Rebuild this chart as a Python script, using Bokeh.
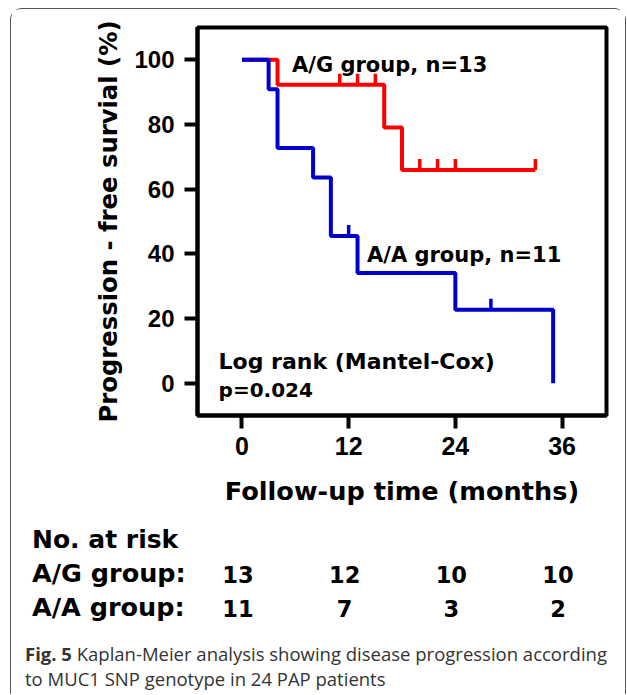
import numpy as np
from bokeh.plotting import figure
from bokeh.models import Range1d, FixedTicker, Div, Label
from bokeh.layouts import column
from bokeh.embed import file_html
from bokeh.resources import INLINE

# ---------------- data ----------------
ag_t = [0, 4, 16, 18, 33]
ag_s = [100, 92.3, 79.1, 65.9, 65.9]
ag_cens = [11, 13, 15, 20, 22, 24, 33]
aa_t = [0, 3, 4, 8, 10, 13, 24, 35]
aa_s = [100, 90.9, 72.7, 63.6, 45.5, 34.1, 22.7, 0]
aa_cens = [12, 28]
x_ticks = [0, 12, 24, 36]
y_ticks = [0, 20, 40, 60, 80, 100]
risk_times = [0, 12, 24, 36]
risk_ag = [13, 12, 10, 10]
risk_aa = [11, 7, 3, 2]
group_labels = ["A/G group:", "A/A group:"]
caption_lines = [("Fig. 5", " Kaplan-Meier analysis showing disease progression according"),
                 ("", "to MUC1 SNP genotype in 24 PAP patients")]


def level_at(ts, ss, times):
    idx = np.searchsorted(np.array(ts), np.array(times), side="right") - 1
    return [ss[i] for i in idx]


RED = "#FF0000"
BLUE = "#0000CC"
ARIAL = "Liberation Sans"
SPACED = "DejaVu Sans"

X0, X1 = -5, 41
Y0, Y1 = -10, 110
FW, FH = 409, 388
BL, BT = 186, 18
W = 614
H1 = 513
H2 = 172

p = figure(frame_width=FW, frame_height=FH,
           x_range=Range1d(X0, X1), y_range=Range1d(Y0, Y1),
           output_backend="svg", toolbar_location=None,
           min_border_left=BL, min_border_top=BT, min_border_right=W - BL - FW,
           min_border_bottom=H1 - BT - FH)
p.grid.visible = False
p.outline_line_color = "black"
p.outline_line_width = 4
p.background_fill_color = "white"
p.border_fill_color = "white"

p.xaxis.ticker = FixedTicker(ticks=x_ticks)
p.yaxis.ticker = FixedTicker(ticks=y_ticks)
for ax in (p.xaxis, p.yaxis):
    ax.axis_line_width = 4
    ax.axis_line_color = "black"
    ax.major_tick_in = 0
    ax.major_tick_out = 13
    ax.major_tick_line_width = 4
    ax.minor_tick_in = 0
    ax.minor_tick_out = 0
    ax.major_label_text_font = ARIAL
    ax.major_label_text_font_style = "bold"
    ax.major_label_text_color = "black"
    ax.axis_label_text_font = SPACED
    ax.axis_label_text_font_style = "bold"
    ax.axis_label_text_color = "black"

p.xaxis.major_label_text_font_size = "25px"
p.yaxis.major_label_text_font_size = "24px"
p.xaxis.major_label_standoff = 8
p.yaxis.major_label_standoff = 10
p.xaxis.axis_label = "Follow-up time (months)"
p.xaxis.axis_label_text_font_size = "25.6px"
p.xaxis.axis_label_standoff = 18
p.yaxis.axis_label = "Progression - free survial (%)"
p.yaxis.axis_label_text_font_size = "24.3px"
p.yaxis.axis_label_standoff = 8

# curves (red first, blue on top)
p.step(ag_t, ag_s, mode="after", line_color=RED, line_width=4)
p.ray(ag_cens, level_at(ag_t, ag_s, ag_cens), length=11, length_units="screen",
      angle=np.pi / 2, line_color=RED, line_width=3.5)
p.step(aa_t, aa_s, mode="after", line_color=BLUE, line_width=4)
p.ray(aa_cens, level_at(aa_t, aa_s, aa_cens), length=11, length_units="screen",
      angle=np.pi / 2, line_color=BLUE, line_width=3.5)


def lab(x, y, txt, fs):
    p.add_layout(Label(x=x, y=y, text=txt, text_font=SPACED,
                       text_font_style="bold", text_font_size=fs,
                       text_color="black", text_baseline="alphabetic",
                       text_align="left"))


lab(5.63, 98.3, "A/G group, n=13", "21px")
lab(14.06, 39.5, "A/A group, n=11", "21px")
lab(-2.63, 6.74, "Log rank (Mantel-Cox)", "22px")
lab(-2.63, -2.22, "p=0.024", "20px")

# ---------------- number-at-risk table + caption ----------------
ppm = FW / (X1 - X0)          # pixels per month, same scale as the axes


def span(left, baseline, html, fs, family, asc, color="black", weight="bold",
         center=False):
    top = baseline - asc * fs
    tr = "transform:translateX(-50%);" if center else ""
    return (f'<span style="position:absolute;left:{left:.1f}px;top:{top:.1f}px;'
            f'{tr}font-family:\'{family}\';font-weight:{weight};font-size:{fs}px;'
            f'line-height:1;color:{color};white-space:nowrap;">{html}</span>')


DJ_ASC = 0.846   # baseline position for DejaVu Sans at line-height 1
OS_ASC = 0.888   # baseline position for Open Sans at line-height 1

rows = [(26, "No. at risk", None, 25), (61, group_labels[0], risk_ag, 25.5),
        (95, group_labels[1], risk_aa, 25.5)]
parts = []
for base, name, counts, fs in rows:
    parts.append(span(21.0, base, name, fs, SPACED, DJ_ASC))
    if counts is not None:
        for tt, n in zip(risk_times, counts):
            cx = BL + (tt - X0) * ppm - 3.5
            parts.append(span(cx, base, str(n), 22.5, SPACED, DJ_ASC, center=True))

for base, (bold, rest) in zip([139, 164], caption_lines):
    html = (f'<b>{bold}</b>' if bold else '') + rest
    parts.append(span(14.0, base, html, 18.5, "Open Sans", OS_ASC,
                      color="#333", weight="normal"))

bottom = Div(width=W, height=H2, margin=0, text=(
    f'<div style="position:relative;width:{W}px;height:{H2}px;overflow:hidden;">'
    + "".join(parts) + '</div>'))

layout = column(p, bottom, spacing=0, styles={
    "margin-left": "10px", "margin-top": "8px",
    "border-top": "1px solid #555", "border-left": "1px solid #555",
    "border-right": "1px solid #555",
    "border-top-left-radius": "12px", "border-top-right-radius": "12px",
    "background": "white"})

open("out.html", "w").write(file_html(layout, INLINE))
